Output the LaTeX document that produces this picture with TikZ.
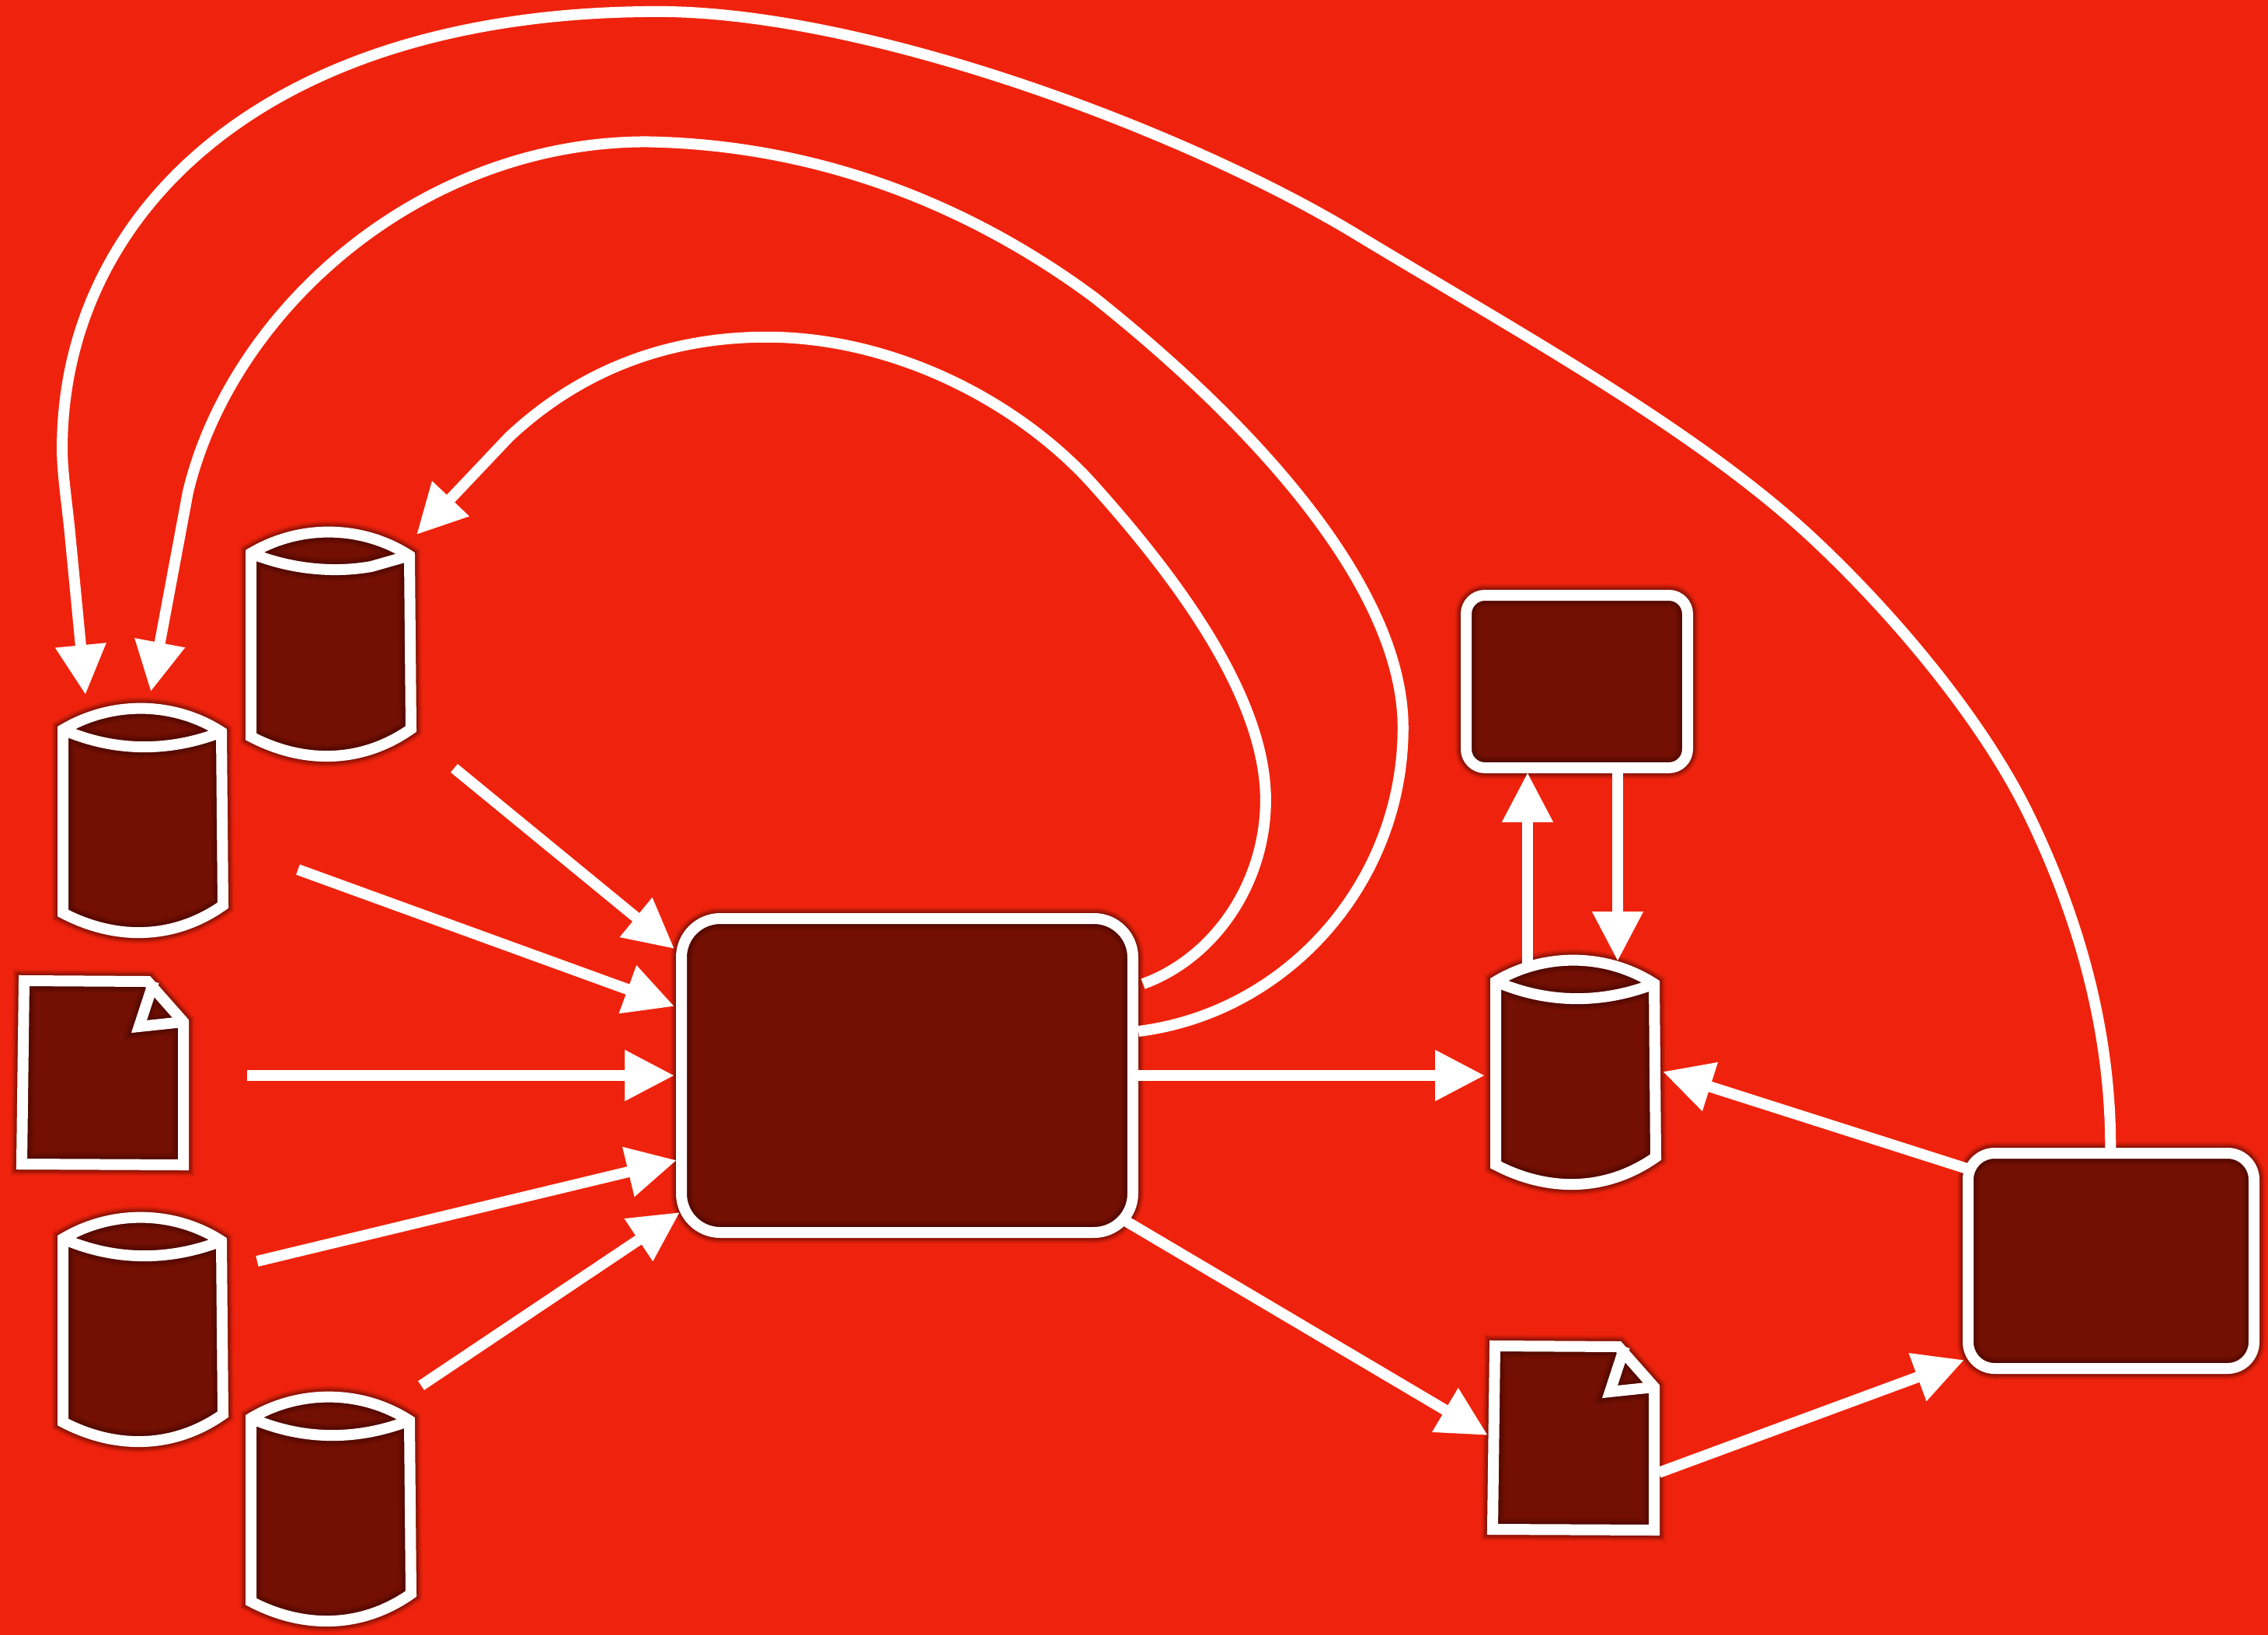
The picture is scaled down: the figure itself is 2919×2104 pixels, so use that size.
\documentclass[tikz,border=0pt]{standalone}
\usetikzlibrary{arrows.meta}
\definecolor{bgred}{RGB}{239,35,13}
\definecolor{darkred}{RGB}{115,15,3}
\tikzset{
  x=0.5pt,y=-0.5pt,
  solid shape/.style={
    preaction={draw=black,opacity=.04,line width=12.5pt,yshift=-1.5pt},
    preaction={draw=black,opacity=.05,line width=11pt,yshift=-1.2pt},
    preaction={draw=black,opacity=.06,line width=9.5pt,yshift=-1pt},
    preaction={draw=black,opacity=.06,line width=8pt,yshift=-.5pt},
    fill=darkred,
    postaction={draw=black,opacity=.05,line width=15pt},
    postaction={draw=black,opacity=.07,line width=13pt},
    postaction={draw=black,opacity=.08,line width=11pt},
    postaction={draw=black,opacity=.09,line width=9pt},
    postaction={draw=white,line width=7pt,line join=miter,miter limit=10}},
  round box/.style={solid shape,rectangle,inner sep=0pt,outer sep=0pt},
  link/.style={draw=white,line width=7pt,
    -{Triangle[length=32pt,width=31pt,fill=white]}}
}
\newcommand{\cylinderpath}{(0,0) .. controls (62,-37) and (142,-37) .. (204,3)
  -- (206,226) .. controls (142,271) and (67,271) .. (0,236) -- cycle
  (204,3) .. controls (137,29) and (67,29) .. (0,0)}
\newcommand{\kinkedcylinderpath}{(0,0) .. controls (62,-37) and (142,-37) .. (204,3)
  -- (206,226) .. controls (142,271) and (67,271) .. (0,236) -- cycle
  (204,3) -- (155,17) .. controls (105,26) and (50,20) .. (0,0)}
\newcommand{\docpath}{(0,0) -- (159,1) -- (205,53) -- (205,237) -- (-3,236) -- cycle
  (205,53) -- (148,59) -- (167,1)}
\tikzset{
  cylinder icon/.pic={\path[solid shape] \cylinderpath;},
  kinked cylinder icon/.pic={\path[solid shape] \kinkedcylinderpath;},
  document icon/.pic={\path[solid shape] \docpath;}
}
\begin{document}
\begin{tikzpicture}
\fill[bgred] (0,0) rectangle (2919,2104);
\useasboundingbox (0,0) rectangle (2919,2104);
% shapes
\pic at (323,712) {kinked cylinder icon};
\pic at (81,939) {cylinder icon};
\pic at (81,1594) {cylinder icon};
\pic at (323,1825) {cylinder icon};
\pic at (1925,1263) {cylinder icon};
\pic at (31,1262) {document icon};
\pic at (1924,1732) {document icon};
\node[round box,minimum width=290.5pt,minimum height=202pt,rounded corners=25pt] (engine) at (1167.5,1384) {};
\node[round box,minimum width=142.5pt,minimum height=111pt,rounded corners=12pt] (upper) at (2029.5,877) {};
\node[round box,minimum width=184pt,minimum height=138.5pt,rounded corners=17pt] (right) at (2717,1622.5) {};
% connector ends
\coordinate (a1s) at (584.5,988.5); \coordinate (a1e) at (868,1221);
\coordinate (a2s) at (383.5,1119); \coordinate (a2e) at (868,1295);
\coordinate (a3s) at (318,1384); \coordinate (a3e) at (868,1384);
\coordinate (a4s) at (331,1623); \coordinate (a4e) at (871,1493);
\coordinate (a5s) at (542,1783); \coordinate (a5e) at (875,1560);
\coordinate (a6s) at (1465,1384); \coordinate (a6e) at (1911,1384);
\coordinate (a7s) at (2532,1504); \coordinate (a7e) at (2140,1379);
\coordinate (a8s) at (1966,1240); \coordinate (a8e) at (1966,994);
\coordinate (a9s) at (2082,988); \coordinate (a9e) at (2082,1237);
\coordinate (a10s) at (1445,1569); \coordinate (a10e) at (1915,1847);
\coordinate (a11s) at (2135,1895); \coordinate (a11e) at (2528,1750);
\coordinate (c1s) at (1471,1266); \coordinate (c1e) at (536,688);
\coordinate (c2s) at (1465,1327); \coordinate (c2e) at (194,890);
\coordinate (c3s) at (2716,1484); \coordinate (c3e) at (110,894);
% straight connectors
\foreach \n in {1,...,11}{\draw[link] (a\n s) -- (a\n e);}
% curved connectors
\begin{scope}[scale=1.8616]
\draw[link] (c1s) .. controls (840,662) and (875,610) .. (875,553)
  .. controls (875,480) and (810,395) .. (753,332)
  .. controls (700,275) and (615,233) .. (530,233)
  .. controls (460,233) and (400,257) .. (352,302)
  -- (c1e);
\draw[link] (c2s) .. controls (890,700) and (970,610) .. (970,503)
  .. controls (970,410) and (875,300) .. (757,206)
  .. controls (675,145) and (570,100) .. (447,98)
  .. controls (290,98) and (160,215) .. (130,340)
  -- (c2e);
\draw[link] (c3s) .. controls (1460,710) and (1435,630) .. (1403,564)
  .. controls (1371,498) and (1310,425) .. (1252,371)
  .. controls (1171,296) and (1050,230) .. (936,161)
  .. controls (820,91) and (600,8) .. (455,8)
  .. controls (180,8) and (43,150) .. (43,310)
  .. controls (43,325) and (45.5,342) .. (48,365)
  -- (c3e);
\end{scope}
\end{tikzpicture}
\end{document}
